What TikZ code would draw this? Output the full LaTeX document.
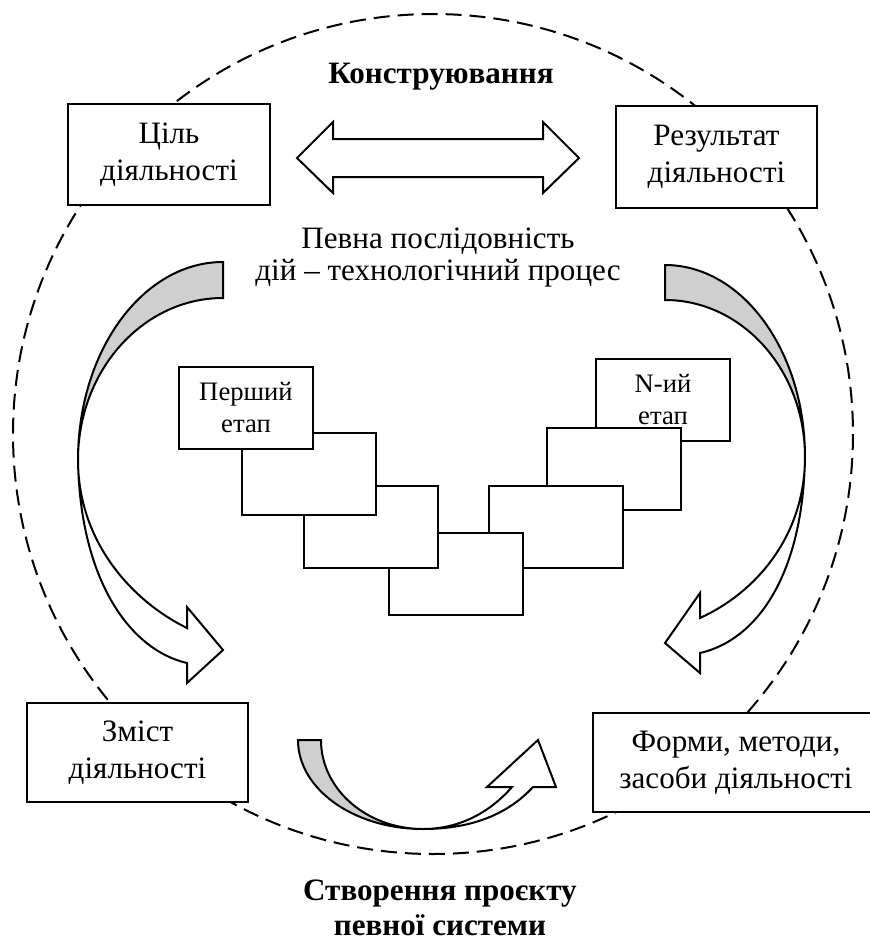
\documentclass[tikz,border=0pt]{standalone}
\usepackage{fontspec}
\setmainfont{Liberation Serif}
\definecolor{bandgray}{HTML}{CFCFCF}

\begin{document}
\begin{tikzpicture}[x=0.45pt, y=-0.45pt,
    box/.style={rectangle, draw=black, fill=white, line width=0.9pt,
      align=center, font=\fontsize{14}{16.8}\selectfont, inner sep=0pt},
    stagebox/.style={rectangle, draw=black, fill=white, line width=0.9pt,
      minimum width=60.3pt, minimum height=36.9pt, align=center,
      font=\fontsize{12}{14.4}\selectfont, inner sep=0pt},
    band/.style={draw=black, line width=0.9pt}]
\useasboundingbox (0,0) rectangle (870,947);
\draw[line width=0.9pt, dash pattern=on 7.2pt off 3.6pt] (433,434) ellipse [x radius=420, y radius=420];

\node[stagebox] (stage7) at (663,399.5) {N-ий\\етап};
\node[stagebox] (stage6) at (614,468.5) {};
\node[stagebox] (stage5) at (556,526.5) {};
\node[stagebox] (stage4) at (456,573.5) {};
\node[stagebox] (stage3) at (371,526.5) {};
\node[stagebox] (stage2) at (309,473.5) {};
\node[stagebox] (stage1) at (246,407.5) {Перший\\етап};

\node[box, minimum width=90.9pt, minimum height=45.45pt] (goal) at (169,154.5) {Ціль\\діяльності};
\node[box, minimum width=90.5pt, minimum height=45.9pt] (result) at (716.5,157) {Результат\\діяльності};
\node[box, minimum width=99.45pt, minimum height=44.55pt] (content) at (137.5,752.5) {Зміст\\діяльності};
\node[box, minimum width=128.7pt, minimum height=44.55pt] (forms) at (736,762.5) {Форми, методи,\\засоби діяльності};

\node[font=\fontsize{14}{16}\selectfont\bfseries] (design) at (441,77) {Конструювання};
\node[align=center, font=\fontsize{14}{14.5}\selectfont] (process) at (438,257.5) {Певна послідовність\\дій – технологічний процес};
\node[align=center, font=\fontsize{14}{15.5}\selectfont\bfseries] (project) at (440,908) {Створення проєкту\\певної системи};

\draw[band, fill=white] (297,158) -- (333,122) -- (333,139) -- (543,139) -- (543,122) -- (579,158)
  -- (543,193) -- (543,177) -- (333,177) -- (333,193) -- cycle;

\draw[band, fill=bandgray] (223,262) -- (223,298) arc[start angle=-90, end angle=-180, x radius=145, y radius=162]
  arc[start angle=-180, end angle=-90, x radius=145, y radius=198] -- cycle;
\draw[band, fill=white] (78,460) .. controls (78,540) and (130,600) .. (187,628) -- (187,607) -- (223,650)
  -- (187,683) -- (187,663) .. controls (130,650) and (80,580) .. (78,460) -- cycle;

\draw[band, fill=bandgray] (665,265) -- (665,300) arc[start angle=-90, end angle=0, x radius=140, y radius=157]
  arc[start angle=0, end angle=-90, x radius=140, y radius=192] -- cycle;
\draw[band, fill=white] (805,457) .. controls (805,535) and (757,592) .. (700,618) -- (700,593) -- (665,643)
  -- (700,673) -- (700,653) .. controls (757,640) and (803,575) .. (805,457) -- cycle;

\draw[band, fill=bandgray] (298,740) -- (321,740) arc[start angle=180, end angle=90, x radius=102, y radius=89]
  arc[start angle=90, end angle=180, x radius=125, y radius=89] -- cycle;
\draw[band, fill=white] (423,829) .. controls (462,829) and (492,810) .. (512,787) -- (487,787) -- (538,740)
  -- (556,787) -- (533,787) .. controls (510,812) and (475,829) .. (423,829) -- cycle;
\end{tikzpicture}
\end{document}
